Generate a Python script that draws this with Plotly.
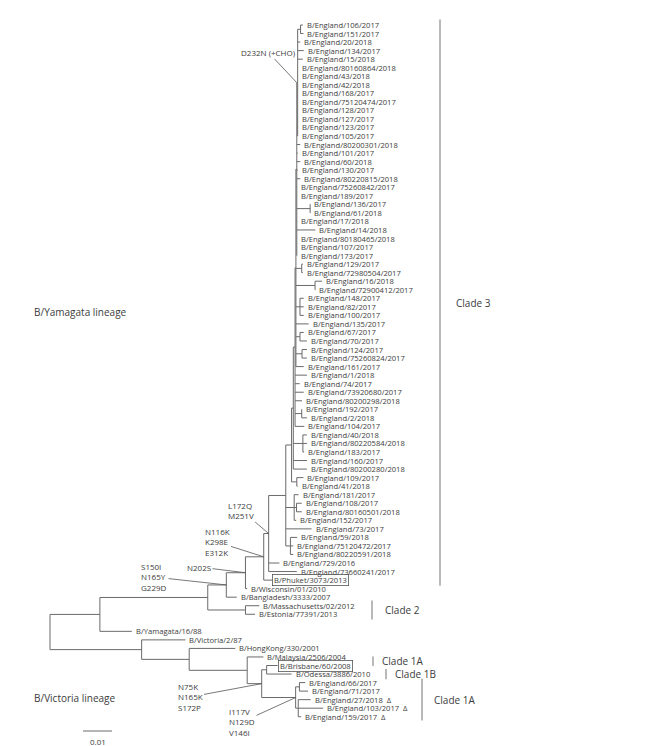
import plotly.graph_objects as go

# ---- tree data: Newick pieces, branch lengths in substitutions per site ----
top_group = ("((B/England/106/2017:0.0008,B/England/151/2017:0.0010):0.0010,"
             "B/England/20/2018:0.0009,B/England/134/2017:0.0021,B/England/15/2018:0.0018,"
             "B/England/80160864/2018:0.0001,B/England/43/2018:0.0001,B/England/42/2018:0.0001,"
             "B/England/168/2017:0.0001,B/England/75120474/2017:0.0001,B/England/128/2017:0.0001,"
             "B/England/127/2017:0.0001,B/England/123/2017:0.0001,B/England/105/2017:0.0001)")

ladder1 = ("(" + top_group + ":0.0003,"
           "B/England/80200301/2018:0.0012,B/England/101/2017:0.0003,B/England/60/2018:0.0012,"
           "B/England/130/2017:0.0003,B/England/80220815/2018:0.0012,B/England/75260842/2017:0.0001,"
           "B/England/189/2017:0.0001,(B/England/136/2017:0.0001,B/England/61/2018:0.0001):0.0046,"
           "B/England/17/2018:0.0001,B/England/14/2018:0.0064,B/England/80180465/2018:0.0001,"
           "B/England/107/2017:0.0001,B/England/173/2017:0.0001)")

ladder2 = ("(" + ladder1 + ":0.0003,"
           "(B/England/129/2017:0.0004,B/England/72980504/2017:0.0004):0.0020,"
           "(B/England/16/2018:0.0024,B/England/72900412/2017:0.0001):0.0066,"
           "(B/England/148/2017:0.0013,B/England/82/2017:0.0013,B/England/100/2017:0.0013):0.0014,"
           "B/England/135/2017:0.0044,"
           "(B/England/67/2017:0.0013,B/England/70/2017:0.0024):0.0014,"
           "(B/England/124/2017:0.0017,B/England/75260824/2017:0.0017):0.0021,"
           "B/England/161/2017:0.0027)")

ladder3 = ("(" + ladder2 + ":0.0003,"
           "B/England/1/2018:0.0041,B/England/74/2017:0.0016,B/England/73920680/2017:0.0030,"
           "B/England/80200298/2018:0.0024,(B/England/192/2017:0.0001,B/England/2/2018:0.0018):0.0023,"
           "B/England/104/2017:0.0032)")

ladder4 = ("(" + ladder3 + ":0.0006,"
           "(B/England/40/2018:0.0014,B/England/80220584/2018:0.0014,B/England/183/2017:0.0004):0.0033,"
           "B/England/160/2017:0.0047,B/England/80200280/2018:0.0047)")

clade3 = ("((" + ladder4 + ":0.0006,(B/England/109/2017:0.0023,B/England/41/2018:0.0003):0.0018):0.0020,"
          "(B/England/181/2017:0.0015,(B/England/108/2017:0.0018,B/England/80160501/2018:0.0018):0.0008,"
          "B/England/152/2017:0.0007):0.0029,"
          "B/England/73/2017:0.0089,"
          "(B/England/59/2018:0.0023,B/England/75120472/2017:0.0010,B/England/80220591/2018:0.0010):0.0016)")

yamagata = ("((((((" + clade3 + ":0.0059,B/England/729/2016:0.0037,B/England/73660241/2017:0.0097):0.0017,"
            "B/Phuket/3073/2013:0.0030):0.0063,B/Wisconsin/01/2010:0.0006):0.0066,"
            "B/Bangladesh/3333/2007:0.0036):0.0064,"
            "(B/Massachusetts/02/2012:0.0048,B/Estonia/77391/2013:0.0033):0.0130):0.0372,"
            "B/Yamagata/16/88:0.0110)")

victoria = ("(B/Victoria/2/87:0.0151,(B/HongKong/330/2001:0.0159,(B/Malaysia/2506/2004:0.0056,"
            "((B/Brisbane/60/2008:0.0038,B/Odessa/3886/2010:0.0086):0.0017,"
            "((B/England/66/2017:0.0020,B/England/71/2017:0.0030):0.0013,"
            "(B/England/27/2018:0.0043,B/England/103/2017:0.0086,B/England/159/2017:0.0010):0.0009):0.0117"
            "):0.0050):0.0200):0.0164)")

tree_newick = "(" + yamagata + ":0.0172," + victoria + ":0.0316);"

boxed_tips = ["B/Phuket/3073/2013", "B/Brisbane/60/2008"]
delta_tips = ["B/England/27/2018", "B/England/103/2017", "B/England/159/2017"]
gap_before = ["B/Yamagata/16/88"]

clade_names = ["Clade 3", "Clade 2", "Clade 1A", "Clade 1B", "Clade 1A"]
clade_first = ["B/England/106/2017", "B/Massachusetts/02/2012", "B/Malaysia/2506/2004",
               "B/Odessa/3886/2010", "B/England/66/2017"]
clade_last = ["B/Phuket/3073/2013", "B/Estonia/77391/2013", "B/Brisbane/60/2008",
              "B/Odessa/3886/2010", "B/England/159/2017"]

# mutation labels and the node they sit on (named by first/last tip of the node)
mut_text = ["D232N (+CHO)", "L172Q<br>M251V", "N116K<br>K298E<br>E312K", "N202S",
            "S150I<br>N165Y<br>G229D", "N75K<br>N165K<br>S172P", "I117V<br>N129D<br>V146I"]
mut_node = [("B/England/106/2017", "B/England/105/2017"),
            ("B/England/106/2017", "B/England/73660241/2017"),
            ("B/England/106/2017", "B/Phuket/3073/2013"),
            ("B/England/106/2017", "B/Wisconsin/01/2010"),
            ("B/England/106/2017", "B/Bangladesh/3333/2007"),
            ("B/Brisbane/60/2008", "B/England/159/2017"),
            ("B/England/66/2017", "B/England/159/2017")]
# point at the node itself, or at the start of its branch
mut_on_branch = [True, False, False, False, False, False, False]

scale_len = 0.01


def parse_newick(s):
    pos = 0

    def node():
        nonlocal pos
        kids = []
        if s[pos] == "(":
            pos += 1
            kids.append(node())
            while s[pos] == ",":
                pos += 1
                kids.append(node())
            pos += 1
        start = pos
        while s[pos] not in ",);":
            pos += 1
        name, _, bl = s[start:pos].partition(":")
        return {"name": name.strip(), "bl": float(bl or 0), "kids": kids}

    return node()


root = parse_newick(tree_newick)
tips = []
row = [0]


def place(n, x0):
    n["x0"] = x0
    n["x"] = x0 + n["bl"]
    if n["kids"]:
        for k in n["kids"]:
            place(k, n["x"])
        n["y"] = (n["kids"][0]["y"] + n["kids"][-1]["y"]) / 2
        n["first"] = n["kids"][0]["first"]
        n["last"] = n["kids"][-1]["last"]
    else:
        if n["name"] in gap_before:
            row[0] += 1
        n["y"] = row[0]
        row[0] += 1
        n["first"] = n["last"] = n["name"]
        tips.append(n)


root["bl"] = 0
place(root, 0)

xs, ys = [], []
nodes = {}


def walk(n):
    nodes[(n["first"], n["last"])] = n
    if not n["kids"]:
        return
    xs.extend([n["x"], n["x"], None])
    ys.extend([n["kids"][0]["y"], n["kids"][-1]["y"], None])
    for k in n["kids"]:
        xs.extend([n["x"], k["x"], None])
        ys.extend([k["y"], k["y"], None])
        walk(k)


walk(root)
tip_y = {t["name"]: t["y"] for t in tips}


# pixel helpers for page layout (root sits at 50px, 0.01 = 29px, rows 8.54px apart from 25px)
def xd(px):
    return (px - 50) / 2900.0


def yd(py):
    return (py - 25) / 8.54


LINE = "#6a6a6a"
TXT = "#3c3c3c"
FONT = "Open Sans"
TIP_SIZE = 7.6

fig = go.Figure()
fig.add_trace(go.Scatter(x=xs, y=ys, mode="lines", line=dict(color=LINE, width=1),
                         hoverinfo="skip", showlegend=False))

ann = []
for t in tips:
    label = t["name"]
    if label in delta_tips:
        label += "  Δ"
    a = dict(x=t["x"], y=t["y"], text=label, showarrow=False, xanchor="left", yanchor="middle",
             xshift=3, borderpad=0, font=dict(family=FONT, size=TIP_SIZE, color=TXT))
    if t["name"] in boxed_tips:
        a.update(bordercolor="#555555", borderwidth=0.8, borderpad=0, xshift=0,
                 text="\u2009" + label + "\u2009")
    ann.append(a)

# clade bars
bar_px = [440, 372, 373, 386, 422]
bar_pad = [0.65, 0.6, 0.05, 0.6, 0.45]
bar_gap = [14, 11, 7, 7, 10]
for name, f, l, bx, pad, gap in zip(clade_names, clade_first, clade_last, bar_px, bar_pad, bar_gap):
    y0, y1 = tip_y[f] - pad, tip_y[l] + pad
    fig.add_trace(go.Scatter(x=[xd(bx), xd(bx)], y=[y0, y1], mode="lines",
                             line=dict(color="#8a8a8a", width=1.2), hoverinfo="skip", showlegend=False))
    ann.append(dict(x=xd(bx), y=(y0 + y1) / 2, text=name, showarrow=False, xanchor="left",
                    xshift=gap, font=dict(family=FONT, size=10, color=TXT)))

# mutation call-outs
mut_pos = [(268, 52), (241, 510), (217, 542), (199, 567), (154, 577), (190, 697), (242, 722)]
for txt, key, on_branch, (px, py) in zip(mut_text, mut_node, mut_on_branch, mut_pos):
    n = nodes[key]
    tx = n["x0"] if on_branch else n["x"]
    ann.append(dict(x=tx, y=n["y"], ax=xd(px), ay=yd(py), axref="x", ayref="y", text=txt,
                    showarrow=True, arrowhead=0, arrowwidth=0.8, arrowcolor="#555555", standoff=0,
                    align="left", font=dict(family=FONT, size=8, color=TXT)))

# lineage labels
ann.append(dict(x=xd(32), y=yd(312), text="B/Yamagata lineage", showarrow=False, xanchor="left",
                font=dict(family=FONT, size=10, color=TXT)))
ann.append(dict(x=xd(32), y=yd(698), text="B/Victoria lineage", showarrow=False, xanchor="left",
                font=dict(family=FONT, size=10, color=TXT)))

# scale bar
sx = xd(83)
fig.add_trace(go.Scatter(x=[sx, sx + scale_len], y=[yd(731), yd(731)], mode="lines",
                         line=dict(color=LINE, width=1), hoverinfo="skip", showlegend=False))
ann.append(dict(x=sx + scale_len / 2, y=yd(741), text=f"{scale_len:.2f}", showarrow=False,
                font=dict(family=FONT, size=8, color=TXT)))

fig.update_layout(width=653, height=746, margin=dict(l=0, r=0, t=0, b=0),
                  paper_bgcolor="white", plot_bgcolor="white", annotations=ann,
                  xaxis=dict(range=[xd(0), xd(653)], visible=False),
                  yaxis=dict(range=[yd(746), yd(0)], visible=False))
fig.write_html("out.html", config={"displayModeBar": False},
               post_script="document.body.style.margin='0';")
